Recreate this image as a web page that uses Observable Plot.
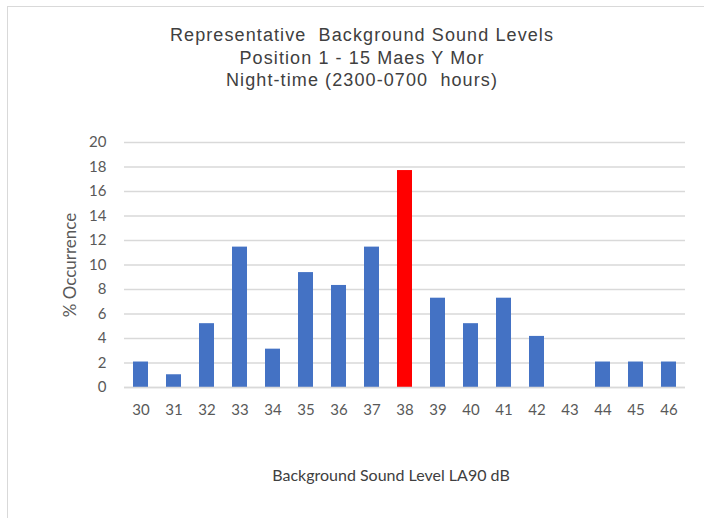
<!DOCTYPE html>
<html>
<head>
<meta charset="utf-8">
<script src="https://cdn.jsdelivr.net/npm/d3@7"></script>
<script src="https://cdn.jsdelivr.net/npm/@observablehq/plot@0.6"></script>
<style>
  html, body { margin: 0; padding: 0; background: #fff; }
  #wrap { position: relative; width: 704px; height: 518px; overflow: hidden; background: #fff; }
  #frame { position: absolute; left: 7px; top: 6px; width: 760px; height: 560px;
           border-left: 1.5px solid #d9d9d9; border-top: 1.5px solid #d9d9d9; }
  #title { position: absolute; left: 0; top: 24px; width: 724px; text-align: center;
           font-family: "Liberation Sans", Arial, sans-serif; font-size: 18px; line-height: 22.5px;
           letter-spacing: 1.1px; color: #404040; white-space: pre; }
  #chart { position: absolute; left: 0; top: 120px; }
</style>
</head>
<body>
<div id="wrap">
  <div id="frame"></div>
  <div id="title">Representative  Background Sound Levels
Position 1 - 15 Maes Y Mor
Night-time (2300-0700  hours)</div>
  <div id="chart"></div>
</div>
<script>
const levels = ["30","31","32","33","34","35","36","37","38","39","40","41","42","43","44","45","46"];
const occurrence = [2.08, 1.04, 5.21, 11.46, 3.13, 9.38, 8.33, 11.46, 17.71, 7.29, 5.21, 7.29, 4.17, 0, 2.08, 2.08, 2.08];
const highlight = "38";
const yTicks = [0, 2, 4, 6, 8, 10, 12, 14, 16, 18, 20];
const xTitle = "Background Sound Level LA90 dB";
const yTitle = "% Occurrence";

const data = levels.map((l, i) => ({level: l, pct: occurrence[i]}));

const chart = Plot.plot({
  width: 704,
  height: 380,
  marginLeft: 124,
  marginRight: 19,
  marginTop: 22,
  marginBottom: 113,
  style: {fontFamily: "Lato, 'Open Sans', sans-serif", fontSize: "15px", color: "#595959", background: "transparent"},
  x: {domain: levels, paddingInner: 0.55, paddingOuter: 0.275, align: 0.5},
  y: {domain: [0, 20]},
  marks: [
    Plot.gridY(yTicks, {stroke: "#d9d9d9", strokeOpacity: 1, strokeWidth: 1.5}),
    Plot.barY(data, {x: "level", y: "pct", fill: d => d.level === highlight ? "#ff0000" : "#4472c4"}),
    Plot.ruleY([0], {stroke: "#d9d9d9", strokeWidth: 1.5}),
    Plot.axisY(yTicks, {tickSize: 0, tickPadding: 18, fill: "#595959", fontSize: 15, label: null}),
    Plot.axisX({tickSize: 0, tickPadding: 17, fill: "#595959", fontSize: 15, label: null}),
    Plot.text([yTitle], {frameAnchor: "left", textAnchor: "middle", rotate: -90, dx: -54, fill: "#595959", fontSize: 17}),
    Plot.text([xTitle], {frameAnchor: "bottom", dy: 93, dx: -14, fill: "#404040", fontSize: 16})
  ]
});
document.getElementById("chart").appendChild(chart);
</script>
</body>
</html>
